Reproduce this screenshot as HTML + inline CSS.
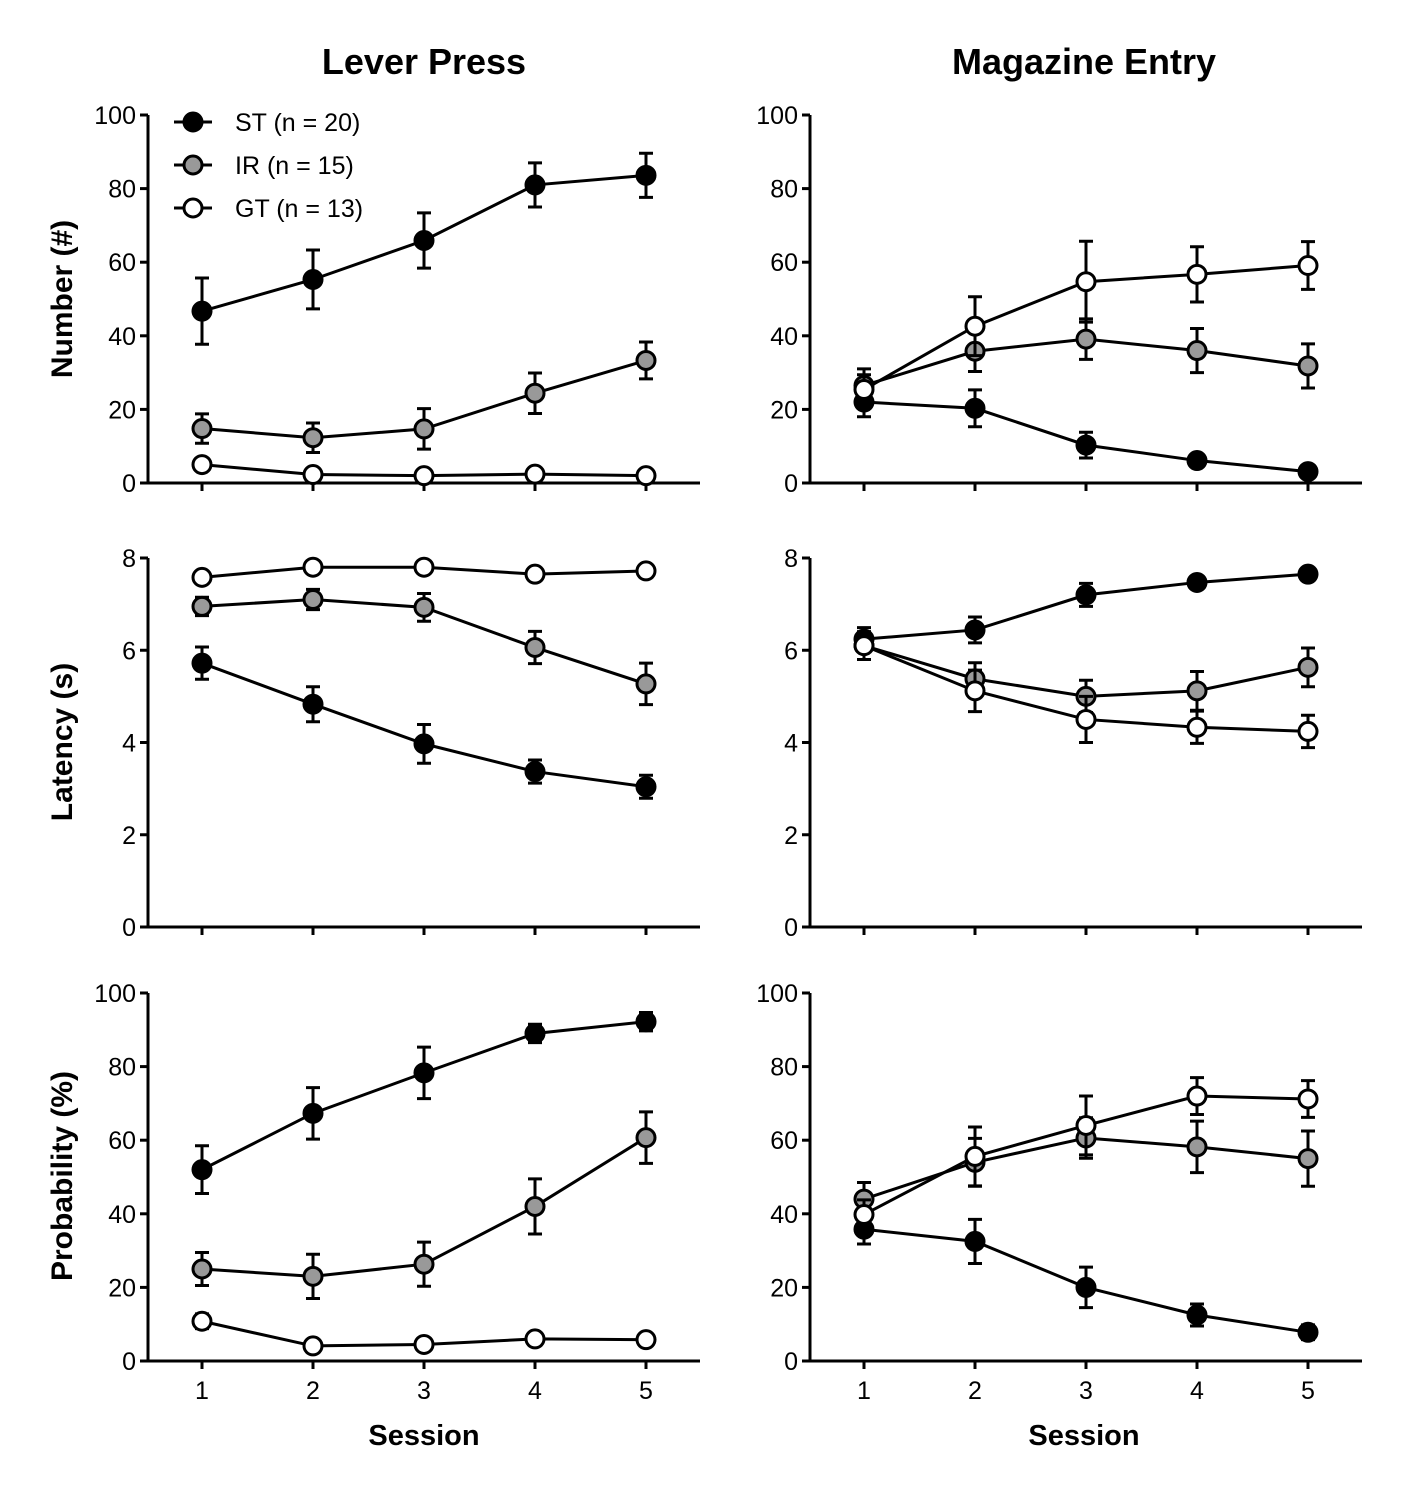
<!DOCTYPE html>
<html><head><meta charset="utf-8"><style>
html,body{margin:0;padding:0;background:#fff;}
svg{display:block;font-family:"Liberation Sans",Arial,sans-serif;}
</style></head><body>
<svg id="fig" width="1409" height="1500" viewBox="0 0 1409 1500"></svg>
<script>
const sessions=[1,2,3,4,5];
const groupNames=["ST (n = 20)","IR (n = 15)","GT (n = 13)"];
const groupFills=["#000","#999","#fff"];
// Lever press number
const lpNumST=[46.7,55.3,65.9,81,83.6], lpNumSTe=[9,8,7.5,6,6];
const lpNumIR=[14.8,12.3,14.7,24.4,33.3], lpNumIRe=[4,4,5.5,5.5,5];
const lpNumGT=[5,2.3,2,2.4,2], lpNumGTe=[1.2,0.8,0.8,0.8,0.6];
// Magazine number
const meNumST=[22,20.3,10.3,6.1,3.1], meNumSTe=[4,5,3.5,1.5,1];
const meNumIR=[26.5,35.8,39.1,36,31.8], meNumIRe=[4.5,5.5,5.5,6,6];
const meNumGT=[25.4,42.6,54.7,56.7,59.1], meNumGTe=[4,8,11,7.5,6.5];
// Latency
const lpLatST=[5.72,4.83,3.97,3.37,3.04], lpLatSTe=[0.35,0.38,0.42,0.25,0.25];
const lpLatIR=[6.95,7.1,6.93,6.06,5.27], lpLatIRe=[0.2,0.22,0.3,0.35,0.45];
const lpLatGT=[7.58,7.8,7.8,7.65,7.72], lpLatGTe=[0.08,0.06,0.06,0.08,0.07];
const meLatST=[6.24,6.44,7.2,7.47,7.65], meLatSTe=[0.25,0.28,0.25,0.12,0.1];
const meLatIR=[6.1,5.38,5.0,5.12,5.63], meLatIRe=[0.3,0.35,0.35,0.42,0.42];
const meLatGT=[6.1,5.12,4.5,4.33,4.24], meLatGTe=[0.3,0.45,0.5,0.35,0.35];
// Probability
const lpProbST=[52,67.3,78.3,89,92.2], lpProbSTe=[6.5,7,7,2.5,2.5];
const lpProbIR=[25,23,26.3,42,60.7], lpProbIRe=[4.5,6,6,7.5,7];
const lpProbGT=[10.8,4.1,4.5,6,5.8], lpProbGTe=[2,1,1,1,1];
const meProbST=[35.8,32.5,20,12.5,7.8], meProbSTe=[4,6,5.5,3,2];
const meProbIR=[44,54,60.6,58.2,55], meProbIRe=[4.5,6.5,5.5,7,7.5];
const meProbGT=[39.8,55.6,64,72,71.2], meProbGTe=[4,8,8,5,5];
const ticks100=["0","20","40","60","80","100"], ticks8=["0","2","4","6","8"];

const NS="http://www.w3.org/2000/svg", svg=document.getElementById("fig");
function el(t,a,p){const e=document.createElementNS(NS,t);for(const k in a)e.setAttribute(k,a[k]);(p||svg).appendChild(e);return e;}
function txt(s,a,p){const e=el("text",a,p);e.textContent=s;return e;}
const SW=3;
const cols=[{x0:148,x1:700,s1:202,name:"lever-press"},{x0:810,x1:1362,s1:864,name:"magazine-entry"}];
const rows=[{top:115,bot:483,max:100,ticks:ticks100,name:"number"},{top:558,bot:927,max:8,ticks:ticks8,name:"latency"},{top:993,bot:1361,max:100,ticks:ticks100,name:"probability"}];
const panels=[
 [[lpNumST,lpNumSTe,lpNumIR,lpNumIRe,lpNumGT,lpNumGTe],[meNumST,meNumSTe,meNumIR,meNumIRe,meNumGT,meNumGTe]],
 [[lpLatST,lpLatSTe,lpLatIR,lpLatIRe,lpLatGT,lpLatGTe],[meLatST,meLatSTe,meLatIR,meLatIRe,meLatGT,meLatGTe]],
 [[lpProbST,lpProbSTe,lpProbIR,lpProbIRe,lpProbGT,lpProbGTe],[meProbST,meProbSTe,meProbIR,meProbIRe,meProbGT,meProbGTe]]];

rows.forEach((r,ri)=>cols.forEach((c,ci)=>{
 const g=el("g",{});
 
 
 const xs=s=>c.s1+(s-1)*111, ys=v=>r.bot-(v/r.max)*(r.bot-r.top);
 const ax=el("path",{d:`M${c.x0},${r.top}V${r.bot}H${c.x1}`,stroke:"#000","stroke-width":SW,fill:"none"},g);
 
 r.ticks.forEach(t=>{const y=ys(+t);
  el("line",{x1:c.x0-8,x2:c.x0,y1:y,y2:y,stroke:"#000","stroke-width":SW},g);
  const tl=txt(t,{x:c.x0-12,y:y+9,"text-anchor":"end","font-size":25},g);
  });
 sessions.forEach(s=>{el("line",{x1:xs(s),x2:xs(s),y1:r.bot,y2:r.bot+8,stroke:"#000","stroke-width":SW},g);
  if(ri==2){const tl=txt(String(s),{x:xs(s),y:r.bot+38,"text-anchor":"middle","font-size":25},g);
   }});
 const d=panels[ri][ci];
 [0,1,2].forEach(gi=>{const v=d[gi*2],e=d[gi*2+1];
  const ln=el("polyline",{points:v.map((y,i)=>xs(sessions[i])+","+ys(y)).join(" "),fill:"none",stroke:"#000","stroke-width":SW},g);
  
  v.forEach((y,i)=>{const x=xs(sessions[i]);
   el("path",{d:`M${x},${ys(y-e[i])}V${ys(y+e[i])}M${x-7},${ys(y-e[i])}h14M${x-7},${ys(y+e[i])}h14`,stroke:"#000","stroke-width":SW,fill:"none"},g);
   const m=el("circle",{cx:x,cy:ys(y),r:9,fill:groupFills[gi],stroke:"#000","stroke-width":SW},g);
   });});
}));
[["Lever Press",424],["Magazine Entry",1084]].forEach(([t,x])=>{const e=txt(t,{x:x,y:74,"text-anchor":"middle","font-size":36,"font-weight":"bold"});
 });
[["Number (#)",299],["Latency (s)",742],["Probability (%)",1176]].forEach(([t,y])=>{const e=txt(t,{x:0,y:0,transform:`translate(72,${y}) rotate(-90)`,"text-anchor":"middle","font-size":30,"font-weight":"bold"});
 });
[424,1084].forEach(x=>{const e=txt("Session",{x:x,y:1445,"text-anchor":"middle","font-size":29,"font-weight":"bold"});
 });
groupNames.forEach((n,i)=>{const y=122+43*i;const g=el("g",{});
 
 el("line",{x1:174,x2:212,y1:y,y2:y,stroke:"#000","stroke-width":SW},g);
 el("circle",{cx:193,cy:y,r:9,fill:groupFills[i],stroke:"#000","stroke-width":SW},g);
 txt(n,{x:235,y:y+9,"font-size":25},g);});
</script>
</body></html>
